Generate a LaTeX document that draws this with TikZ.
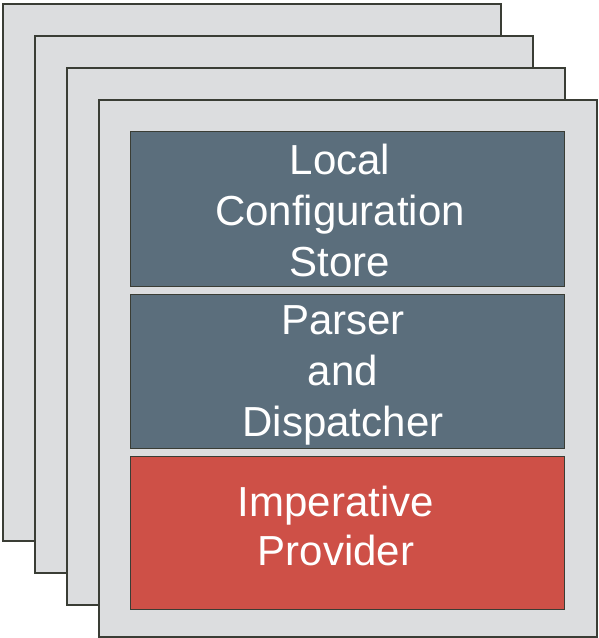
\documentclass[tikz,border=0pt]{standalone}
\usepackage{fontspec}
\setmainfont{Liberation Sans}
\definecolor{panelfill}{HTML}{DCDDDF}
\definecolor{edgecol}{HTML}{3A3D35}
\definecolor{slatebox}{HTML}{5B6E7C}
\definecolor{redbox}{HTML}{CE5047}
\begin{document}
\begin{tikzpicture}[x=1pt,y=-1pt,
  panel/.style={draw=edgecol,fill=panelfill,line width=1.5pt,rectangle,inner sep=0pt,
    minimum width=498pt,minimum height=537pt,anchor=north west},
  layerbox/.style={draw=edgecol,line width=1.2pt,rectangle,inner sep=0pt,
    minimum width=434pt,minimum height=155pt,anchor=north west},
  boxtext/.style={text=white,align=center,inner sep=0pt,
    font=\fontsize{42pt}{51pt}\selectfont}]
\useasboundingbox (0,0) rectangle (598,638);
\node[panel] (p1) at (2,3) {};
\node[panel] (p2) at (34,35) {};
\node[panel] (p3) at (66,67) {};
\node[panel] (p4) at (98,99) {};
\node[layerbox,fill=slatebox] (store) at (130,131) {};
\node[layerbox,fill=slatebox,minimum height=154pt] (parser) at (130,294) {};
\node[layerbox,fill=redbox,minimum height=153pt] (provider) at (130,456) {};
\node[boxtext] (storet) at (340,210) {Local\\Configuration\\Store};
\node[boxtext] (parsert) at (343,375) {Parser\\and\\Dispatcher};
\node[boxtext,font=\fontsize{42pt}{49pt}\selectfont] (providert) at (336,526) {Imperative\\Provider};
\end{tikzpicture}
\end{document}
